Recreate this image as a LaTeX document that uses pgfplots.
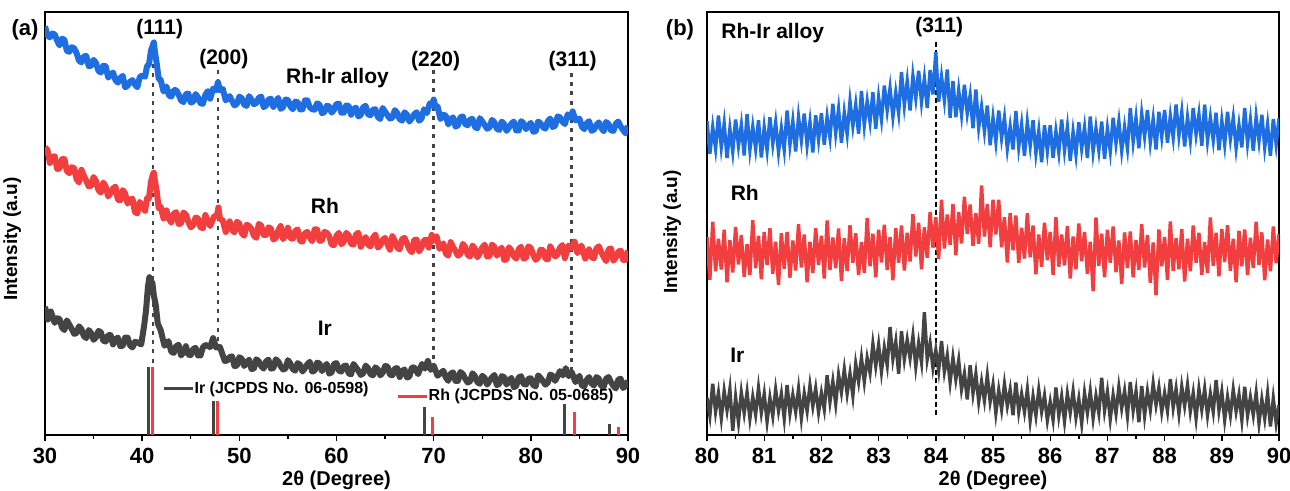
\documentclass[border=0pt]{standalone}
\usepackage{pgfplots}
\pgfplotsset{compat=1.18}
\usepackage{pgfplotstable}
\usepackage{fontspec}
\setmainfont{Liberation Sans}
\definecolor{cblue}{RGB}{30,110,225}
\definecolor{cred}{RGB}{242,62,62}
\definecolor{cgray}{RGB}{68,68,68}

\pgfplotstableread{
x y
30.0 96.6
30.25 94.5
30.5 94.0
30.75 94.9
31.0 94.7
31.25 93.2
31.5 92.1
31.75 93.7
32.0 93.4
32.25 90.8
32.5 90.6
32.75 91.7
33.0 91.4
33.25 90.3
33.5 88.5
33.75 88.1
34.0 89.5
34.25 89.6
34.5 87.2
34.75 87.3
35.0 88.7
35.25 87.9
35.5 86.1
35.75 85.7
36.0 87.3
36.25 87.2
36.5 84.5
36.75 85.1
37.0 85.7
37.25 83.9
37.5 83.3
37.75 84.4
38.0 84.9
38.25 82.2
38.5 82.6
38.75 83.5
39.0 83.9
39.25 82.9
39.5 82.2
39.75 84.6
40.0 85.0
40.3 84.7
40.5 87.2
40.7 87.6
40.9 90.8
41.1 92.2
41.2 92.8
41.3 90.8
41.5 87.8
41.7 84.2
41.9 84.0
42.2 81.2
42.5 82.4
42.75 80.3
43.0 80.0
43.25 81.5
43.5 81.5
43.75 80.5
44.0 79.1
44.25 78.7
44.5 80.6
44.75 80.7
45.0 78.6
45.25 78.8
45.5 80.6
45.75 79.8
46.0 78.4
46.25 78.3
46.5 80.4
46.75 81.3
47.0 79.5
47.3 81.9
47.6 81.5
47.8 83.4
48.0 81.5
48.3 81.8
48.6 79.1
49.0 80.1
49.25 79.0
49.5 77.9
49.75 78.3
50.0 80.0
50.25 79.6
50.5 78.1
50.75 77.8
51.0 80.1
51.25 79.3
51.5 78.2
51.75 78.5
52.0 79.7
52.25 80.0
52.5 77.5
52.75 77.9
53.0 79.3
53.25 79.5
53.5 77.5
53.75 78.7
54.0 79.7
54.25 77.1
54.5 77.5
54.75 79.3
55.0 79.2
55.25 77.7
55.5 77.0
55.75 78.8
56.0 78.7
56.25 77.0
56.5 77.0
56.75 79.1
57.0 79.1
57.25 77.5
57.5 77.0
57.75 76.9
58.0 78.4
58.25 78.1
58.5 76.1
58.75 76.3
59.0 77.8
59.25 77.7
59.5 76.2
59.75 76.9
60.0 78.3
60.25 78.3
60.5 76.2
60.75 76.2
61.0 77.9
61.25 77.8
61.5 75.7
61.75 77.0
62.0 77.4
62.25 75.3
62.5 75.7
62.75 77.5
63.0 77.8
63.25 75.8
63.5 75.6
63.75 76.9
64.0 77.0
64.25 75.2
64.5 74.7
64.75 77.3
65.0 76.4
65.25 75.6
65.5 74.8
65.75 75.0
66.0 76.8
66.25 76.1
66.5 74.7
66.75 74.3
67.0 76.3
67.25 75.7
67.5 74.1
67.75 74.9
68.0 75.8
68.25 76.3
68.5 74.3
68.75 74.8
69.0 77.0
69.3 76.1
69.6 78.4
69.8 77.9
70.0 79.3
70.2 77.4
70.4 77.7
70.7 74.7
71.0 75.7
71.25 75.5
71.5 73.4
71.75 74.6
72.0 75.1
72.25 72.9
72.5 73.2
72.75 75.1
73.0 75.3
73.25 73.5
73.5 73.2
73.75 74.6
74.0 74.7
74.25 72.8
74.5 72.5
74.75 74.9
75.0 74.1
75.25 73.3
75.5 72.4
75.75 72.7
76.0 74.5
76.25 73.9
76.5 72.4
76.75 72.1
77.0 74.1
77.25 73.5
77.5 71.9
77.75 72.7
78.0 73.6
78.25 74.1
78.5 72.0
78.75 72.0
79.0 74.2
79.25 73.7
79.5 72.3
79.75 73.1
80.0 73.8
80.25 71.7
80.5 71.8
80.75 74.1
81.0 73.7
81.25 72.8
81.5 72.4
81.75 74.2
82.0 74.8
82.25 72.8
82.5 73.1
82.75 75.3
83.0 75.1
83.25 74.1
83.5 73.5
83.8 75.8
84.1 75.0
84.3 76.5
84.6 74.4
85.0 74.8
85.25 72.9
85.5 72.3
85.75 73.7
86.0 74.2
86.25 71.9
86.5 72.2
86.75 73.3
87.0 73.9
87.25 72.6
87.5 71.8
87.75 74.0
88.0 73.5
88.25 72.0
88.5 71.9
88.75 73.6
89.0 74.1
89.25 72.9
89.5 72.1
89.75 71.3
90.0 73.1
}\blueA

\pgfplotstableread{
x y
30.0 68.0
30.25 67.4
30.5 64.3
30.75 65.7
31.0 65.9
31.25 62.9
31.5 63.0
31.75 65.2
32.0 65.2
32.25 62.4
32.5 61.9
32.75 63.3
33.0 63.1
33.25 60.5
33.5 59.7
33.75 62.7
34.0 61.3
34.25 60.1
34.5 58.8
34.75 58.9
35.0 61.0
35.25 60.0
35.5 57.9
35.75 57.3
36.0 59.7
36.25 58.7
36.5 56.4
36.75 57.2
37.0 58.3
37.25 58.7
37.5 55.6
37.75 55.5
38.0 57.9
38.25 57.1
38.5 54.7
38.75 55.5
39.0 55.9
39.25 52.7
39.5 52.4
39.75 55.1
40.0 54.2
40.3 53.0
40.5 56.0
40.7 55.9
40.9 59.8
41.1 61.6
41.2 62.0
41.3 60.3
41.5 57.6
41.7 53.6
41.9 54.0
42.2 51.2
42.5 53.1
42.75 51.1
43.0 50.2
43.25 52.3
43.5 52.7
43.75 49.9
44.0 50.0
44.25 52.6
44.5 52.1
44.75 50.4
45.0 49.1
45.25 49.6
45.5 51.4
45.75 51.2
46.0 49.1
46.25 48.9
46.5 52.0
46.75 50.7
47.0 49.4
47.4 51.7
47.7 51.8
47.85 53.8
48.0 51.2
48.3 50.7
48.6 48.0
49.0 50.5
49.25 48.5
49.5 47.9
49.75 50.4
50.0 50.0
50.25 47.7
50.5 47.1
50.75 49.7
51.0 49.4
51.25 48.7
51.5 47.1
51.75 46.6
52.0 49.9
52.25 49.5
52.5 47.3
52.75 47.3
53.0 49.1
53.25 48.8
53.5 46.2
53.75 46.6
54.0 48.3
54.25 49.4
54.5 46.3
54.75 47.3
55.0 49.0
55.25 46.6
55.5 46.4
55.75 48.2
56.0 48.6
56.25 45.9
56.5 45.7
56.75 47.7
57.0 48.0
57.25 46.7
57.5 45.8
57.75 48.6
58.0 48.6
58.25 45.9
58.5 46.0
58.75 48.0
59.0 47.8
59.25 47.0
59.5 45.0
59.75 44.9
60.0 47.1
60.25 47.8
60.5 45.1
60.75 45.7
61.0 47.8
61.25 47.2
61.5 45.2
61.75 45.0
62.0 47.4
62.25 47.8
62.5 44.5
62.75 45.7
63.0 46.8
63.25 45.0
63.5 44.6
63.75 46.6
64.0 47.4
64.25 44.3
64.5 44.8
64.75 46.1
65.0 46.6
65.25 45.1
65.5 43.8
65.75 47.0
66.0 45.9
66.25 44.3
66.5 43.9
66.75 46.3
67.0 46.6
67.25 45.3
67.5 43.9
67.75 43.2
68.0 46.1
68.25 46.2
68.5 43.4
68.75 44.3
69.0 46.0
69.25 46.2
69.5 44.3
69.8 47.3
70.0 45.9
70.3 47.0
70.6 44.0
71.0 45.3
71.25 42.9
71.5 42.4
71.75 45.6
72.0 44.4
72.25 43.5
72.5 42.4
72.75 42.8
73.0 45.2
73.25 44.4
73.5 42.6
73.75 42.2
74.0 44.8
74.25 44.0
74.5 42.0
74.75 43.0
75.0 44.3
75.25 45.0
75.5 42.2
75.75 42.3
76.0 45.0
76.25 44.5
76.5 42.4
76.75 43.5
77.0 44.3
77.25 41.4
77.5 41.5
77.75 44.4
78.0 43.6
78.25 42.3
78.5 41.7
78.75 43.9
79.0 44.5
79.25 41.7
79.5 41.9
79.75 44.6
80.0 44.2
80.25 42.6
80.5 41.4
80.75 42.0
81.0 43.8
81.25 43.7
81.5 41.7
81.75 41.5
82.0 44.6
82.25 43.5
82.5 42.2
82.75 42.7
83.0 44.3
83.25 44.9
83.5 41.8
83.9 44.8
84.2 44.2
84.5 45.7
84.8 43.0
85.2 44.8
85.6 41.7
86.0 43.9
86.25 42.0
86.5 41.8
86.75 44.1
87.0 44.6
87.25 43.2
87.5 42.1
87.75 41.1
88.0 43.9
88.25 44.1
88.5 41.2
88.75 42.0
89.0 43.3
89.25 43.6
89.5 41.4
89.75 41.4
90.0 43.6
}\redA

\pgfplotstableread{
x y
30.0 30.3
30.3 27.3
30.6 29.2
31.0 26.5
31.25 27.6
31.5 27.4
31.75 25.4
32.0 24.8
32.25 27.1
32.5 26.1
32.75 25.1
33.0 23.9
33.25 24.1
33.5 25.7
33.75 25.0
34.0 23.4
34.25 22.9
34.5 24.8
34.75 24.1
35.0 22.5
35.25 23.1
35.5 24.6
35.75 24.3
36.0 22.3
36.25 22.1
36.5 23.6
36.75 23.6
37.0 21.4
37.25 22.7
37.5 23.0
37.75 21.0
38.0 21.1
38.25 23.0
38.5 23.0
38.75 21.2
39.0 20.7
39.25 22.0
39.5 21.9
39.9 21.4
40.2 25.8
40.4 29.5
40.6 35.2
40.75 37.3
40.9 36.3
41.05 36.0
41.2 33.0
41.4 30.7
41.6 26.4
41.9 24.8
42.3 21.1
42.7 22.2
43.0 19.7
43.25 19.4
43.5 21.0
43.75 21.3
44.0 18.8
44.25 19.6
44.5 21.0
44.75 19.0
45.0 18.9
45.25 20.3
45.5 20.6
45.75 18.8
46.0 18.8
46.25 20.7
46.5 21.3
47.0 20.8
47.3 22.9
47.6 20.7
48.0 20.8
48.5 17.5
48.75 17.6
49.0 18.4
49.25 18.6
49.5 16.3
49.75 16.4
50.0 18.4
50.25 18.0
50.5 16.3
50.75 17.2
51.0 17.8
51.25 15.6
51.5 15.7
51.75 17.9
52.0 17.4
52.25 16.3
52.5 15.7
52.75 17.4
53.0 17.8
53.25 15.7
53.5 15.8
53.75 17.9
54.0 17.4
54.25 16.3
54.5 15.5
54.75 15.7
55.0 17.7
55.25 16.9
55.5 15.6
55.75 15.2
56.0 17.0
56.25 16.6
56.5 15.0
56.75 15.8
57.0 16.7
57.25 17.3
57.5 15.0
57.75 15.2
58.0 17.1
58.25 16.9
58.5 15.1
58.75 16.1
59.0 16.8
59.25 14.5
59.5 14.8
59.75 16.8
60.0 17.0
60.25 15.2
60.5 15.0
60.75 16.3
61.0 16.4
61.25 14.6
61.5 14.3
61.75 16.8
62.0 16.0
62.25 15.2
62.5 14.2
62.75 14.6
63.0 16.4
63.25 15.8
63.5 14.4
63.75 14.1
64.0 16.0
64.25 15.5
64.5 14.1
64.75 14.7
65.0 16.3
65.25 16.2
65.5 14.3
65.75 14.1
66.0 15.7
66.25 15.8
66.5 13.7
66.75 15.1
67.0 15.5
67.25 13.6
67.5 13.8
67.75 15.9
68.0 16.0
68.4 14.4
68.8 16.8
69.1 15.7
69.4 17.5
69.7 15.4
70.0 16.4
70.4 14.0
71.0 15.2
71.25 13.6
71.5 12.8
71.75 14.5
72.0 14.8
72.25 12.8
72.5 12.8
72.75 14.9
73.0 14.4
73.25 13.3
73.5 12.4
73.75 12.7
74.0 14.6
74.25 13.9
74.5 12.5
74.75 12.1
75.0 14.0
75.25 13.5
75.5 11.9
75.75 12.8
76.0 13.6
76.25 14.2
76.5 11.8
76.75 12.1
77.0 13.9
77.25 13.7
77.5 11.9
77.75 12.9
78.0 13.5
78.25 11.3
78.5 11.6
78.75 13.6
79.0 13.9
79.25 12.1
79.5 11.9
79.75 13.3
80.0 13.4
80.25 11.8
80.5 11.5
80.75 14.1
81.0 13.5
81.25 12.7
81.5 11.9
81.75 12.4
82.0 14.3
82.25 14.0
82.5 12.8
83.0 15.1
83.3 14.1
83.6 15.8
83.9 13.9
84.2 14.9
84.6 12.5
85.0 14.0
85.25 11.7
85.5 11.5
85.75 13.0
86.0 13.7
86.25 12.2
86.5 11.7
86.75 13.7
87.0 13.3
87.25 11.6
87.5 11.4
87.75 13.3
88.0 13.7
88.25 12.5
88.5 11.6
88.75 11.0
89.0 13.1
89.25 13.3
89.5 11.1
89.75 11.7
90.0 12.8
}\grayA

\pgfplotstableread{
x y
80.00 74.2
80.05 66.5
80.10 72.8
80.15 67.7
80.20 75.5
80.25 68.1
80.30 73.6
80.35 65.5
80.40 72.4
80.45 67.0
80.50 74.6
80.55 68.4
80.60 73.3
80.65 66.1
80.70 75.8
80.75 67.4
80.80 72.9
80.85 67.7
80.90 74.4
80.95 65.6
81.00 72.7
81.05 67.3
81.10 75.1
81.15 68.8
81.20 73.9
81.25 66.9
81.30 72.5
81.35 67.4
81.40 76.7
81.45 68.6
81.50 74.2
81.55 67.0
81.60 75.2
81.65 69.7
81.70 76.0
81.75 68.5
81.80 74.0
81.85 66.8
81.90 75.6
81.95 69.8
82.00 76.1
82.05 68.6
82.10 75.2
82.15 70.3
82.20 78.3
82.25 71.3
82.30 77.0
82.35 69.1
82.40 76.2
82.45 71.1
82.50 78.9
82.55 73.0
82.60 78.1
82.65 71.2
82.70 81.3
82.75 73.2
82.80 78.9
82.85 74.0
82.90 81.0
82.95 72.4
83.00 79.8
83.05 74.6
83.10 82.6
83.15 76.7
83.20 82.0
83.25 75.2
83.30 81.0
83.35 76.1
83.40 85.8
83.45 77.9
83.50 83.7
83.55 76.7
83.60 84.9
83.65 79.6
83.70 86.1
83.75 78.7
83.80 84.3
83.85 77.3
83.90 86.3
83.95 80.5
84.00 90.5
84.05 78.8
84.10 84.7
84.15 79.1
84.20 86.4
84.25 75.0
84.30 83.7
84.35 75.1
84.40 81.5
84.45 75.7
84.50 82.8
84.55 76.0
84.60 80.3
84.65 72.5
84.70 81.7
84.75 72.7
84.80 77.6
84.85 71.8
84.90 77.9
84.95 68.5
85.00 75.0
85.05 69.3
85.10 76.7
85.15 70.2
85.20 75.0
85.25 67.7
85.30 72.9
85.35 67.5
85.40 76.6
85.45 68.1
85.50 73.4
85.55 66.0
85.60 73.9
85.65 68.3
85.70 74.4
85.75 66.6
85.80 71.9
85.85 64.5
85.90 73.2
85.95 67.1
86.00 73.2
86.05 65.5
86.10 71.8
86.15 66.8
86.20 74.6
86.25 67.3
86.30 72.8
86.35 64.8
86.40 71.7
86.45 66.3
86.50 73.9
86.55 67.7
86.60 72.7
86.65 65.5
86.70 75.3
86.75 67.0
86.80 72.5
86.85 67.3
86.90 74.1
86.95 65.3
87.00 72.4
87.05 67.1
87.10 75.0
87.15 68.9
87.20 74.1
87.25 67.2
87.30 72.8
87.35 67.8
87.40 77.3
87.45 69.3
87.50 75.0
87.55 67.8
87.60 75.9
87.65 70.5
87.70 76.8
87.75 69.2
87.80 74.7
87.85 67.5
87.90 76.4
87.95 70.5
88.00 76.8
88.05 69.1
88.10 75.4
88.15 70.3
88.20 78.1
88.25 70.8
88.30 76.3
88.35 68.2
88.40 75.1
88.45 69.7
88.50 77.3
88.55 71.0
88.60 75.8
88.65 68.4
88.70 78.1
88.75 69.6
88.80 75.0
88.85 69.7
88.90 76.2
88.95 67.3
89.00 74.3
89.05 68.7
89.10 76.4
89.15 70.0
89.20 75.0
89.25 67.8
89.30 73.3
89.35 68.0
89.40 77.3
89.45 69.0
89.50 74.5
89.55 67.2
89.60 75.2
89.65 69.5
89.70 75.7
89.75 68.0
89.80 73.4
89.85 66.0
89.90 74.7
89.95 68.7
90.00 74.9
}\blueB

\pgfplotstableread{
x y
80.00 46.8
80.05 36.7
80.10 50.4
80.15 38.7
80.20 46.4
80.25 39.1
80.30 48.5
80.35 36.1
80.40 46.1
80.45 38.4
80.50 49.2
80.55 40.3
80.60 47.3
80.65 37.4
80.70 45.1
80.75 37.8
80.80 50.8
80.85 39.4
80.90 47.1
80.95 36.8
81.00 48.0
81.05 40.2
81.10 48.9
81.15 38.1
81.20 45.7
81.25 35.5
81.30 47.7
81.35 39.3
81.40 48.0
81.45 37.2
81.50 46.0
81.55 38.9
81.60 49.8
81.65 39.6
81.70 47.4
81.75 36.1
81.80 45.7
81.85 38.3
81.90 48.9
81.95 40.2
82.00 47.1
82.05 37.0
82.10 50.7
82.15 39.0
82.20 46.7
82.25 39.4
82.30 48.8
82.35 36.4
82.40 46.5
82.45 38.8
82.50 49.6
82.55 40.7
82.60 47.7
82.65 37.8
82.70 45.6
82.75 38.3
82.80 51.3
82.85 39.9
82.90 47.6
82.95 37.3
83.00 48.5
83.05 40.8
83.10 49.7
83.15 39.0
83.20 46.8
83.25 36.6
83.30 48.9
83.35 40.7
83.40 49.5
83.45 38.9
83.50 47.8
83.55 41.0
83.60 52.2
83.65 42.2
83.70 50.2
83.75 39.2
83.80 49.1
83.85 41.9
83.90 52.7
83.95 44.3
84.00 51.5
84.05 41.6
84.10 55.6
84.15 44.1
84.20 52.1
84.25 45.0
84.30 54.6
84.35 42.5
84.40 52.7
84.45 45.3
84.50 56.3
84.55 47.5
84.60 54.5
84.65 44.7
84.70 52.4
84.75 45.2
84.80 59.0
84.85 46.9
84.90 54.6
84.95 44.4
85.00 55.6
85.05 47.4
85.10 55.6
85.15 44.4
85.20 51.5
85.25 40.8
85.30 52.5
85.35 43.7
85.40 51.9
85.45 40.7
85.50 49.0
85.55 41.7
85.60 52.4
85.65 42.0
85.70 49.5
85.75 38.0
85.80 47.4
85.85 39.8
85.90 50.2
85.95 41.3
86.00 48.0
86.05 37.9
86.10 51.5
86.15 39.8
86.20 47.4
86.25 40.1
86.30 49.4
86.35 37.0
86.40 46.9
86.45 39.2
86.50 50.0
86.55 41.1
86.60 48.0
86.65 38.1
86.70 45.7
86.75 34.0
86.80 51.4
86.85 40.0
86.90 47.6
86.95 37.3
87.00 48.5
87.05 40.7
87.10 49.3
87.15 38.5
87.20 46.0
87.25 35.7
87.30 47.9
87.35 39.5
87.40 48.1
87.45 37.3
87.50 46.1
87.55 39.0
87.60 49.8
87.65 39.6
87.70 47.3
87.75 36.0
87.80 45.5
87.85 33.0
87.90 48.6
87.95 39.9
88.00 46.8
88.05 36.7
88.10 50.5
88.15 38.8
88.20 46.5
88.25 39.2
88.30 48.7
88.35 36.3
88.40 46.4
88.45 38.7
88.50 49.5
88.55 40.7
88.60 47.8
88.65 37.9
88.70 45.6
88.75 38.3
88.80 51.4
88.85 40.0
88.90 47.8
88.95 37.5
89.00 48.7
89.05 40.9
89.10 49.6
89.15 38.8
89.20 46.4
89.25 36.1
89.30 48.3
89.35 39.9
89.40 48.6
89.45 37.8
89.50 46.6
89.55 39.5
89.60 50.4
89.65 40.2
89.70 47.9
89.75 36.6
89.80 46.2
89.85 38.7
89.90 49.3
89.95 40.6
90.00 47.5
}\redB

\pgfplotstableread{
x y
80.00 8.8
80.05 4.6
80.10 12.1
80.15 5.5
80.20 9.9
80.25 4.0
80.30 10.4
80.35 5.9
80.40 10.8
80.45 1.0
80.50 8.9
80.55 3.1
80.60 10.0
80.65 5.2
80.70 10.1
80.75 3.9
80.80 9.0
80.85 4.9
80.90 11.1
80.95 5.3
81.00 9.7
81.05 3.2
81.10 8.8
81.15 4.5
81.20 10.7
81.25 5.7
81.30 9.7
81.35 3.9
81.40 11.8
81.45 5.1
81.50 9.5
81.55 5.5
81.60 10.9
81.65 4.0
81.70 9.8
81.75 5.7
81.80 11.7
81.85 6.8
81.90 11.0
81.95 5.4
82.00 9.9
82.05 6.1
82.10 14.1
82.15 7.9
82.20 12.7
82.25 7.4
82.30 14.2
82.35 10.1
82.40 15.5
82.45 9.8
82.50 14.5
82.55 9.3
82.60 16.8
82.65 12.6
82.70 18.2
82.75 12.6
82.80 18.2
82.85 14.7
82.90 21.5
82.95 16.3
83.00 21.3
83.05 15.0
83.10 20.6
83.15 16.5
83.20 25.5
83.25 18.0
83.30 22.1
83.35 14.5
83.40 24.5
83.45 17.9
83.50 22.5
83.55 18.2
83.60 23.4
83.65 16.2
83.70 21.7
83.75 17.2
83.80 29.0
83.85 17.9
83.90 21.7
83.95 15.9
84.00 20.1
84.05 15.3
84.10 22.2
84.15 15.0
84.20 18.8
84.25 12.5
84.30 18.3
84.35 13.2
84.40 17.6
84.45 10.8
84.50 14.5
84.55 8.4
84.60 16.5
84.65 9.8
84.70 14.4
84.75 7.9
84.80 12.6
84.85 8.2
84.90 14.0
84.95 7.9
85.00 11.9
85.05 5.2
85.10 10.6
85.15 6.1
85.20 12.0
85.25 6.9
85.30 10.7
85.35 4.7
85.40 12.4
85.45 5.5
85.50 9.7
85.55 5.5
85.60 10.7
85.65 3.5
85.70 9.1
85.75 4.6
85.80 10.6
85.85 5.5
85.90 9.3
85.95 3.5
86.00 7.8
86.05 3.6
86.10 11.2
86.15 4.6
86.20 9.1
86.25 3.3
86.30 9.7
86.35 5.3
86.40 10.3
86.45 4.2
86.50 8.5
86.55 2.8
86.60 9.9
86.65 5.2
86.70 10.3
86.75 4.0
86.80 9.2
86.85 5.2
86.90 13.5
86.95 5.8
87.00 10.2
87.05 3.8
87.10 9.4
87.15 5.1
87.20 11.3
87.25 6.3
87.30 10.4
87.35 4.6
87.40 12.5
87.45 5.8
87.50 10.3
87.55 3.0
87.60 11.6
87.65 4.6
87.70 10.3
87.75 6.0
87.80 12.1
87.85 7.1
87.90 11.2
87.95 5.5
88.00 9.9
88.05 5.7
88.10 13.2
88.15 6.5
88.20 10.9
88.25 5.1
88.30 11.4
88.35 6.9
88.40 11.8
88.45 5.6
88.50 9.9
88.55 4.0
88.60 10.8
88.65 6.0
88.70 10.9
88.75 4.7
88.80 9.7
88.85 5.5
88.90 13.0
88.95 5.8
89.00 10.2
89.05 3.6
89.10 9.0
89.15 4.7
89.20 10.7
89.25 5.6
89.30 9.5
89.35 3.6
89.40 11.4
89.45 4.6
89.50 8.9
89.55 4.7
89.60 9.9
89.65 2.8
89.70 8.4
89.75 3.9
89.80 9.8
89.85 2.0
89.90 8.6
89.95 2.8
90.00 7.1
}\grayB

\begin{document}
\begin{tikzpicture}
\useasboundingbox (0,0) rectangle (645pt,245.5pt);
\pgfplotsset{
  xrdaxis/.style={
    scale only axis, height=211.5pt,
    ymin=0, ymax=100, ytick=\empty,
    tick align=outside, xtick pos=bottom,
    major tick length=3pt, minor tick length=1.8pt,
    every tick/.style={black, line width=0.7pt},
    axis line style={line width=0.7pt},
    ticklabel style={font=\fontsize{11}{13}\selectfont\bfseries},
    /pgf/number format/assume math mode=true,
    xlabel style={font=\fontsize{10}{12}\selectfont\bfseries, yshift=3pt},
    ylabel style={font=\fontsize{9.5}{11}\selectfont\bfseries},
    xlabel={2θ (Degree)},
    ylabel={Intensity (a.u)},
    clip=true,
  }
}
\begin{axis}[xrdaxis, name=A, at={(22.5pt,28pt)}, anchor=south west,
  width=291.5pt, xmin=30, xmax=90, xtick={30,40,...,90}, minor xtick={35,45,...,85},
  ylabel style={at={(axis description cs:-0.029,0.463)}, anchor=south}]
\addplot[cgray, line width=1.3pt, dash pattern=on 2pt off 2.6pt] coordinates {(41.1,92) (41.1,16.5)};
\addplot[cgray, line width=1.3pt, dash pattern=on 2pt off 2.6pt] coordinates {(47.8,86.3) (47.8,21.7)};
\addplot[cgray, line width=1.3pt, dash pattern=on 2pt off 2.6pt] coordinates {(70.0,86.3) (70.0,17.0)};
\addplot[cgray, line width=1.3pt, dash pattern=on 2pt off 2.6pt] coordinates {(84.2,85.6) (84.2,14.9)};
\addplot[cblue, line width=3pt, line join=round] table {\blueA};
\addplot[cred, line width=3pt, line join=round] table {\redA};
\addplot[cgray, line width=3pt, line join=round] table {\grayA};
\addplot[ycomb, cgray, line width=1.5pt, mark=none] coordinates {(40.65,16.1) (47.3,8.0) (69.1,6.6) (83.45,7.3) (88.1,2.6)};
\addplot[ycomb, cred, line width=1.5pt, mark=none] coordinates {(41.1,16.1) (47.8,8.0) (69.9,4.3) (84.45,5.4) (89.05,1.9)};
\draw[cgray, line width=1.6pt] (axis cs:42.2,10.9) -- (axis cs:45.2,10.9);
\node[anchor=west, inner sep=0.5pt, font=\fontsize{8}{9}\selectfont\bfseries] at (axis cs:45.25,10.9) {Ir (JCPDS No. 06-0598)};
\draw[cred, line width=1.6pt] (axis cs:66.3,9.1) -- (axis cs:69.3,9.1);
\node[anchor=west, inner sep=0.5pt, font=\fontsize{8}{9}\selectfont\bfseries] at (axis cs:69.35,9.1) {Rh (JCPDS No. 05-0685)};
\node[font=\fontsize{10.5}{12}\selectfont\bfseries] at (axis cs:41.8,96.0) {(111)};
\node[font=\fontsize{10.5}{12}\selectfont\bfseries] at (axis cs:48.4,88.9) {(200)};
\node[font=\fontsize{10.5}{12}\selectfont\bfseries] at (axis cs:70.2,88.3) {(220)};
\node[font=\fontsize{10.5}{12}\selectfont\bfseries] at (axis cs:84.3,88.3) {(311)};
\node[font=\fontsize{10.5}{12}\selectfont\bfseries] at (axis cs:60.1,84.4) {Rh-Ir alloy};
\node[font=\fontsize{10.5}{12}\selectfont\bfseries] at (axis cs:58.8,54.2) {Rh};
\node[font=\fontsize{10.5}{12}\selectfont\bfseries] at (axis cs:58.8,25.3) {Ir};
\end{axis}
\node[font=\fontsize{11}{13}\selectfont\bfseries] at ([xshift=-10pt,yshift=-9pt]A.north west) {(a)};

\begin{axis}[xrdaxis, name=B, at={(353.5pt,28pt)}, anchor=south west,
  width=286pt, xmin=80, xmax=90, xtick={80,81,...,90}, minor xtick={80.5,81.5,...,89.5},
  ylabel style={at={(axis description cs:-0.033,0.48)}, anchor=south}]
\addplot[black, line width=0.8pt, dash pattern=on 2.5pt off 1.5pt] coordinates {(84.0,93) (84.0,4.7)};
\addplot[cblue, line width=1.7pt] table {\blueB};
\addplot[cred, line width=1.7pt] table {\redB};
\addplot[cgray, line width=1.7pt] table {\grayB};
\node[font=\fontsize{10.5}{12}\selectfont\bfseries] at (axis cs:84.06,96.5) {(311)};
\node[font=\fontsize{10.5}{12}\selectfont\bfseries] at (axis cs:81.15,95.0) {Rh-Ir alloy};
\node[font=\fontsize{10.5}{12}\selectfont\bfseries] at (axis cs:80.66,57.2) {Rh};
\node[font=\fontsize{10.5}{12}\selectfont\bfseries] at (axis cs:80.53,18.9) {Ir};
\end{axis}
\node[font=\fontsize{11}{13}\selectfont\bfseries] at ([xshift=-13.5pt,yshift=-9pt]B.north west) {(b)};
\end{tikzpicture}
\end{document}
